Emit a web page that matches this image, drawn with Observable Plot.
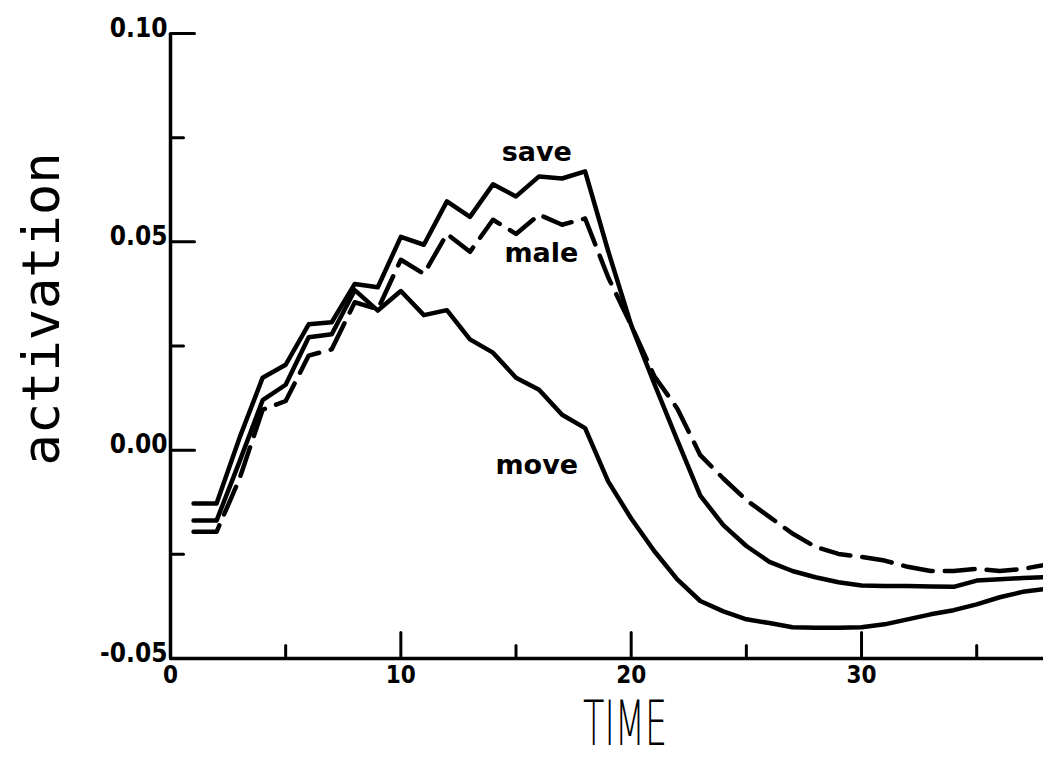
<!DOCTYPE html>
<html><head><meta charset="utf-8">
<script src="https://cdn.jsdelivr.net/npm/d3@7"></script>
<script src="https://cdn.jsdelivr.net/npm/@observablehq/plot@0.6"></script>
<style>body{margin:0;background:#fff}</style>
</head><body><div id="chart"></div>
<script>
const time = [1,2,3,4,5,6,7,8,9,10,11,12,13,14,15,16,17,18,19,20,21,22,23,24,25,26,27,28,29,30,31,32,33,34,35,36,37,38];
const save = [-0.0128,-0.0128,0.003,0.0174,0.0205,0.0302,0.0307,0.0399,0.0391,0.0512,0.0493,0.0597,0.0560,0.0638,0.0609,0.0657,0.0652,0.0669,0.0478,0.0300,0.016,0.0024,-0.0109,-0.018,-0.023,-0.0268,-0.029,-0.0305,-0.0317,-0.0325,-0.0326,-0.0326,-0.0327,-0.0328,-0.0313,-0.031,-0.0307,-0.0305];
const male = [-0.0196,-0.0196,-0.0068,0.0097,0.0118,0.0227,0.0242,0.0355,0.0338,0.0457,0.0423,0.0519,0.0476,0.0553,0.0519,0.0565,0.0541,0.0556,0.0415,0.0300,0.0178,0.010,-0.0012,-0.0068,-0.012,-0.016,-0.020,-0.0232,-0.0249,-0.0256,-0.0265,-0.028,-0.029,-0.029,-0.0285,-0.029,-0.0285,-0.0275];
const move = [-0.0169,-0.0169,-0.0027,0.012,0.0157,0.0271,0.0278,0.0384,0.0335,0.0382,0.0324,0.0336,0.0266,0.0234,0.0174,0.0145,0.0085,0.0053,-0.0075,-0.0164,-0.0242,-0.031,-0.0362,-0.0387,-0.0406,-0.0415,-0.0425,-0.0426,-0.0426,-0.0425,-0.0418,-0.0406,-0.0394,-0.0384,-0.037,-0.0353,-0.034,-0.0333];

const xMajorTicks = [0,10,20,30];
const xMinorTicks = [5,15,25,35];
const yMajorTicks = [-0.05,0,0.05,0.10];
const yMinorTicks = [-0.025,0.025,0.075];
const yTickLabels = ["-0.05","0.00","0.05","0.10"];
const seriesNames = ["save","male","move"];
const labelX = [15.9,16.1,15.9];
const labelY = [0.0715,0.0473,-0.0036];
const xDomain = [0,37.9];
const yDomain = [-0.05,0.10];

const rows = [];
time.forEach((t,i)=>{
  rows.push({t, v: save[i], s: "save"});
  rows.push({t, v: male[i], s: "male"});
  rows.push({t, v: move[i], s: "move"});
});
const solid = rows.filter(d => d.s !== "male");
const dashed = rows.filter(d => d.s === "male");

const tickShape = {draw(ctx, l){ ctx.moveTo(0,0); ctx.lineTo(0,-l); }};
const font = "DejaVu Sans";
const tickFont = "DejaVu Sans Condensed, DejaVu Sans";

const chart = Plot.plot({
  width: 1043, height: 758,
  marginLeft: 170, marginRight: 0, marginTop: 33, marginBottom: 100,
  x: {domain: xDomain},
  y: {domain: yDomain},
  style: {background: "white", color: "black", fontFamily: font},
  marks: [
    Plot.line(solid, {x: "t", y: "v", z: "s", stroke: "black", strokeWidth: 4.5, strokeLinejoin: "round", strokeLinecap: "round", clip: true}),
    Plot.line(dashed, {x: "t", y: "v", stroke: "black", strokeWidth: 4.5, strokeDasharray: "30,12", strokeLinejoin: "round", clip: true}),
    Plot.ruleX([xDomain[0]], {stroke: "black", strokeWidth: 3.5}),
    Plot.ruleY([yDomain[0]], {stroke: "black", strokeWidth: 3.5}),
    Plot.vector(xMajorTicks, {x: d => d, y: yDomain[0], length: 26, rotate: 0, anchor: "start", shape: tickShape, stroke: "black", strokeWidth: 3}),
    Plot.vector(xMinorTicks, {x: d => d, y: yDomain[0], length: 13, rotate: 0, anchor: "start", shape: tickShape, stroke: "black", strokeWidth: 3}),
    Plot.vector(yMajorTicks, {x: xDomain[0], y: d => d, length: 24, rotate: 90, anchor: "start", shape: tickShape, stroke: "black", strokeWidth: 3}),
    Plot.vector(yMinorTicks, {x: xDomain[0], y: d => d, length: 13, rotate: 90, anchor: "start", shape: tickShape, stroke: "black", strokeWidth: 3}),
    Plot.axisX(xMajorTicks, {tickSize: 0, tickPadding: 7, fontSize: 24, fontWeight: "bold", label: null, fontFamily: tickFont}),
    Plot.axisY(yMajorTicks, {tickSize: 0, tickPadding: 3, tickFormat: d => yTickLabels[yMajorTicks.indexOf(d)], lineAnchor: "bottom", dy: 3, fontSize: 26, fontWeight: "bold", label: null, fontFamily: tickFont}),
    Plot.text(seriesNames, {x: (d,i) => labelX[i], y: (d,i) => labelY[i], text: d => d, fontSize: 27, fontWeight: "bold", fontFamily: font}),
    Plot.text(["TIME"], {frameAnchor: "bottom", text: d => d, dx: 18, dy: 86, lineAnchor: "bottom", fontSize: 62, fontWeight: 300, fontFamily: font}),
    Plot.text(["activation"], {frameAnchor: "left", textAnchor: "middle", text: d => d, rotate: -90, dx: -128, dy: -37, fontSize: 52, fontFamily: "DejaVu Sans Mono"})
  ]
});
document.getElementById("chart").appendChild(chart);
d3.select(chart).selectAll("text").filter(function(){ return this.textContent === "TIME"; })
  .attr("textLength", 84).attr("lengthAdjust", "spacingAndGlyphs");
</script>
</body></html>
